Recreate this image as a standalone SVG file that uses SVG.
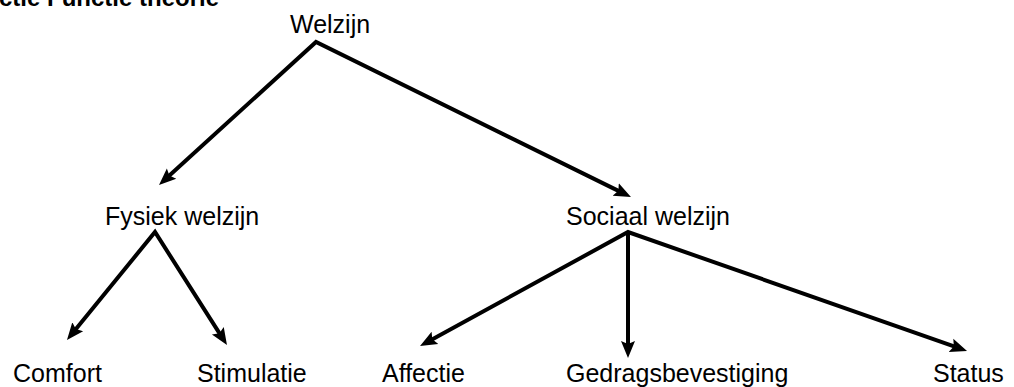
<svg xmlns="http://www.w3.org/2000/svg" width="1014" height="387" viewBox="0 0 1014 387">
<style>
  text { font-family: "Liberation Sans", Arial, sans-serif; font-size: 25px; fill: #000; }
  .title { font-weight: bold; font-size: 24px; }
  .conn { fill: none; stroke: #000; stroke-width: 4; stroke-linejoin: miter; stroke-miterlimit: 10; marker-end: url(#ah); }
  .both { marker-start: url(#ah); }
</style>
<defs>
  <marker id="ah" markerUnits="userSpaceOnUse" markerWidth="18" markerHeight="16" viewBox="0 0 18 16" refX="7" refY="8" orient="auto-start-reverse">
    <path d="M0,1 L17,8 L0,15 L3,8 z" fill="#000"/>
  </marker>
</defs>
<rect width="1014" height="387" fill="#fff"/>
<text class="title" x="-1" y="6">ctie Functie theorie</text>
<g id="connectors">
  <path class="conn both" d="M166.4,178.3 L316,42 L622,192.6"/>
  <path class="conn both" d="M73.3,332.2 L155,232 L221.6,336.6"/>
  <path class="conn both" d="M428.8,341.2 L628,232 L957.6,347.7"/>
  <path class="conn" d="M628,234 L628,348"/>
</g>
<g id="welzijn"><text x="290" y="33">Welzijn</text></g>
<g id="fysiek"><text x="105" y="225">Fysiek welzijn</text></g>
<g id="sociaal"><text x="566" y="225">Sociaal welzijn</text></g>
<g id="comfort"><text x="13" y="382">Comfort</text></g>
<g id="stimulatie"><text x="197" y="382">Stimulatie</text></g>
<g id="affectie"><text x="382" y="382">Affectie</text></g>
<g id="gedrag"><text x="566" y="382">Gedragsbevestiging</text></g>
<g id="status"><text x="933" y="382">Status</text></g>
</svg>
